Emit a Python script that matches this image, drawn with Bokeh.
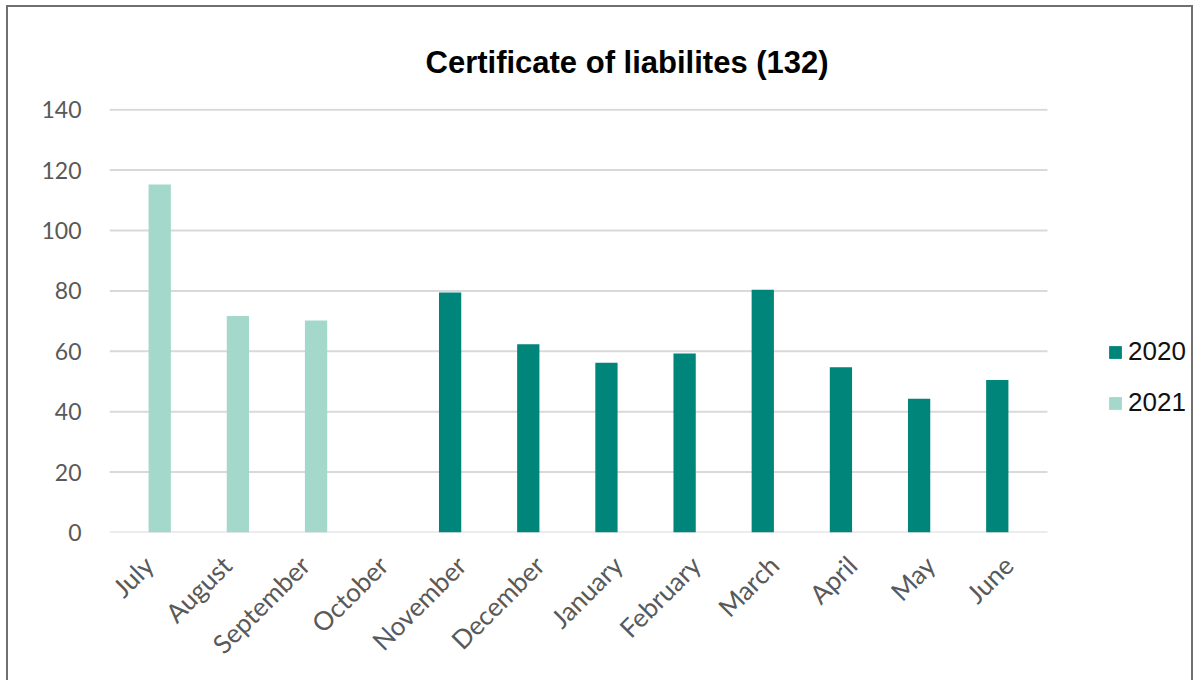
from bokeh.plotting import figure
from bokeh.models import Range1d, Legend, LegendItem, ColumnDataSource, FixedTicker
from bokeh.transform import dodge
from bokeh.embed import file_html
from bokeh.resources import INLINE
import math

months = ["July", "August", "September", "October", "November", "December",
          "January", "February", "March", "April", "May", "June"]
y2020 = [0, 0, 0, 0, 79.5, 62.3, 56.2, 59.3, 80.4, 54.7, 44.3, 50.5]
y2021 = [115.2, 71.7, 70.2, 0, 0, 0, 0, 0, 0, 0, 0, 0]
series = ["2020", "2021"]
colors = ["#00857a", "#a3d8cb"]
title_text = "Certificate of liabilites (132)"
y_ticks = [0, 20, 40, 60, 80, 100, 120, 140]

n = len(months)
pos = [i + 0.5 for i in range(n)]
src = ColumnDataSource(dict(pos=pos, month=months, y2020=y2020, y2021=y2021))

# plot area: categories occupy 938 px of a 1086 px wide frame; the rest holds the legend
x_end = n * 1086 / 938
p = figure(x_range=Range1d(0, x_end), y_range=Range1d(0, 140.4), width=1187, height=675,
           output_backend="svg", toolbar_location=None,
           min_border_left=101, min_border_right=0,
           min_border_top=101, min_border_bottom=150)
p.margin = (5, 1, 0, 6)
p.styles = {"border-top": "2px solid #707070", "border-left": "2px solid #707070",
            "border-right": "2px solid #707070"}

# horizontal gridlines across the category area only
p.segment(x0=[0] * len(y_ticks), x1=[n] * len(y_ticks), y0=y_ticks, y1=y_ticks,
          line_color="#d9d9d9", line_width=2)

r1 = p.vbar(x=dodge("pos", -0.1425), top="y2020", width=0.285,
            source=src, fill_color=colors[0], line_color=None)
r2 = p.vbar(x=dodge("pos", 0.1425), top="y2021", width=0.285,
            source=src, fill_color=colors[1], line_color=None)

p.title.text = title_text
p.title.align = "left"
p.title.offset = 316
p.title.vertical_align = "top"
p.title.padding = (0, 0, 10, 0)
p.title.text_font = "Liberation Sans"
p.title.text_font_style = "bold"
p.title.text_font_size = "31px"
p.title.text_color = "#000000"
p.title.standoff = 54

p.outline_line_color = None
p.xgrid.grid_line_color = None
p.ygrid.grid_line_color = None
p.yaxis.ticker = FixedTicker(ticks=y_ticks)
p.xaxis.ticker = FixedTicker(ticks=pos)
p.xaxis.major_label_overrides = {x: m for x, m in zip(pos, months)}

for ax in (p.xaxis[0], p.yaxis[0]):
    ax.major_tick_line_color = None
    ax.minor_tick_line_color = None
    ax.major_label_text_font = "Lato"
    ax.major_label_text_color = "#595959"
p.yaxis.major_label_text_font_size = "23px"
p.xaxis.major_label_text_font_size = "26px"
p.yaxis.axis_line_color = None
p.yaxis.major_label_standoff = 22
p.xaxis.axis_line_color = None
p.xaxis.major_label_orientation = math.pi / 4
p.xaxis.major_label_standoff = 22

legend = Legend(items=[LegendItem(label=series[0], renderers=[r1]),
                       LegendItem(label=series[1], renderers=[r2])],
                location=(998, 114))
legend.glyph_width = 16
legend.glyph_height = 16
legend.label_text_font = "Liberation Sans"
legend.label_text_font_size = "26px"
legend.label_text_color = "#111111"
legend.label_standoff = 5
legend.label_height = 30
legend.spacing = 20
legend.padding = 0
legend.margin = 0
legend.border_line_color = None
legend.background_fill_alpha = 0
p.add_layout(legend)

open("out.html", "w").write(file_html(p, INLINE))
